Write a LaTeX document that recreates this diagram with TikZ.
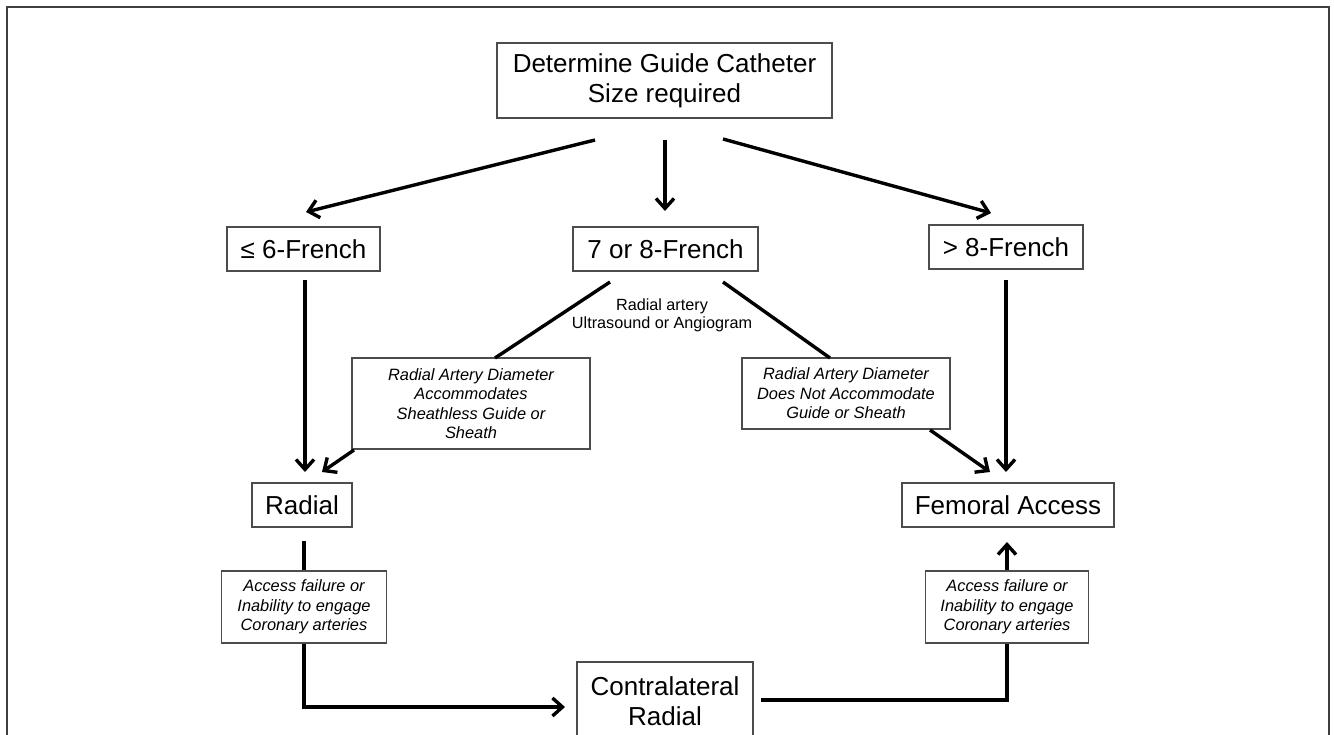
\documentclass[tikz,border=0pt]{standalone}
\usepackage{fontspec}
\setmainfont{Liberation Sans}
\usetikzlibrary{arrows.meta}
\begin{document}
\begin{tikzpicture}[x=1pt,y=-1pt,
  box/.style={draw=black!70, line width=1.4pt, inner sep=0pt, align=center, text=black},
  big/.style={font=\fontsize{26}{30}\selectfont},
  ital/.style={font=\fontsize{16.4}{19.5}\selectfont\itshape},
  small/.style={font=\fontsize{16.2}{18}\selectfont, align=center, inner sep=0pt},
  conn/.style={line width=3.4pt, black},
  arr/.style={conn, -{Straight Barb[length=10pt,width=18pt]}},
]
\useasboundingbox (0,0) rectangle (1334,734);
\draw[line width=2pt, black!75] (7,780) -- (7,7) -- (1329,7) -- (1329,780);

% nodes
\node[box,big,minimum width=335pt,minimum height=75pt] (top) at (664.5,80.5) {Determine Guide Catheter\\Size required};
\node[box,big,minimum width=153pt,minimum height=44pt] (f6) at (303.5,249) {≤ 6-French};
\node[box,big,minimum width=185pt,minimum height=44pt] (f78) at (665.5,249) {7 or 8-French};
\node[box,big,minimum width=154pt,minimum height=44pt] (f8) at (1006,247) {> 8-French};
\node[small] (lbl) at (662,315) {Radial artery\\Ultrasound or Angiogram};
\node[box,ital,minimum width=238pt,minimum height=91pt] (sa) at (471,403.5) {Radial Artery Diameter\\Accommodates\\Sheathless Guide or\\Sheath};
\node[box,ital,minimum width=208pt,minimum height=71pt] (sb) at (846,393.5) {Radial Artery Diameter\\Does Not Accommodate\\Guide or Sheath};
\node[box,big,minimum width=100pt,minimum height=44pt] (radial) at (302,505) {Radial};
\node[box,big,minimum width=212pt,minimum height=44pt] (fem) at (1008,505) {Femoral Access};
\node[box,ital,minimum width=165pt,minimum height=72pt] (acL) at (304,607) {Access failure or\\Inability to engage\\Coronary arteries};
\node[box,ital,minimum width=163pt,minimum height=72pt] (acR) at (1007,607) {Access failure or\\Inability to engage\\Coronary arteries};
\node[box,big,minimum width=176pt,minimum height=78pt] (contra) at (665,701) {Contralateral\\Radial};

% connector end points
\coordinate (t1) at (595,140);
\coordinate (t1e) at (306,212);
\coordinate (t2) at (665,140);
\coordinate (t2e) at (665,211);
\coordinate (t3) at (723,139);
\coordinate (t3e) at (991,213);
\coordinate (l1) at (305,280);
\coordinate (l1e) at (305,472);
\coordinate (d1) at (610,282);
\coordinate (d1e) at (495,358);
\coordinate (d2) at (723,282);
\coordinate (d2e) at (830,358);
\coordinate (s1) at (354,450);
\coordinate (s1e) at (322,472);
\coordinate (s2) at (930,430);
\coordinate (s2e) at (990,472);
\coordinate (r1) at (1006,280);
\coordinate (r1e) at (1006,472);
\coordinate (b1) at (304,541);
\coordinate (b2e) at (565,707);
\coordinate (c1) at (761,700);
\coordinate (u1e) at (1007,542);

% connectors
\draw[arr] (t1) -- (t1e);
\draw[arr] (t2) -- (t2e);
\draw[arr] (t3) -- (t3e);
\draw[arr] (l1) -- (l1e);
\draw[conn] (d1) -- (d1e);
\draw[conn] (d2) -- (d2e);
\draw[arr] (s1) -- (s1e);
\draw[arr] (s2) -- (s2e);
\draw[arr] (r1) -- (r1e);
\draw[conn] (b1) -- (acL.north);
\draw[arr] (acL.south) |- (b2e);
\draw[conn] (c1) -| (acR.south);
\draw[arr] (acR.north) -- (u1e);
\end{tikzpicture}
\end{document}
